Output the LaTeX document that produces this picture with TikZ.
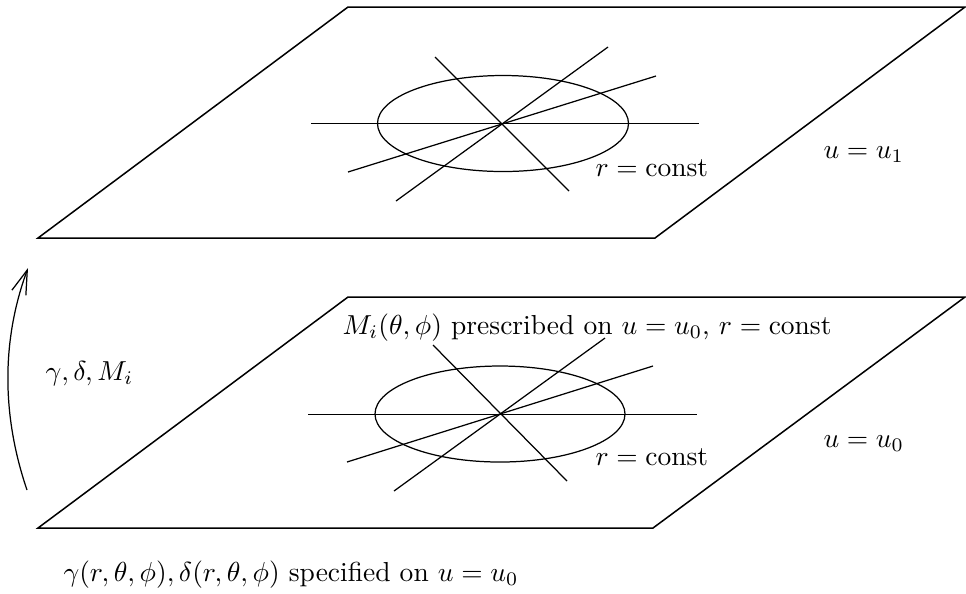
\documentclass[tikz,border=0pt]{standalone}
\usepackage{amsmath,amssymb}
\usepackage{tikz}
\usetikzlibrary{arrows.meta}

\begin{document}
\begin{tikzpicture}[
      x=0.01278cm,y=-0.01278cm,
      sheet/.style={line width=0.55pt,line join=miter},
      ray/.style={line width=0.45pt},
      shell/.style={line width=0.45pt},
      lbl/.style={inner sep=0pt,anchor=base west},
      flow/.style={-{Straight Barb[length=3.1mm,width=1.9mm]},line width=0.45pt}
    ]
    \path[use as bounding box] (0,0) rectangle (966,593);

    % upper sheet u = u_1
    \draw[sheet] (38,238) -- (655,238) -- (965,7) -- (348,7) -- cycle;
    \coordinate (upperO) at (503,123.5);
    \draw[shell] (upperO) ellipse [x radius=125.5,y radius=48];
    \draw[ray] (311,123.5) -- (699,123.5);
    \draw[ray] (435,57) -- (569,191);
    \draw[ray] (396,201) -- (608,47);
    \draw[ray] (348,172) -- (656,76);
    \node[lbl] (upperR) at (595,176) {$r=\mathrm{const}$};
    \node[lbl] (upperU) at (823,158) {$u=u_1$};

    % lower sheet u = u_0
    \draw[sheet] (38,528) -- (653,528) -- (965,297) -- (348,297) -- cycle;
    \coordinate (lowerO) at (500,414);
    \draw[shell] (lowerO) ellipse [x radius=125,y radius=48];
    \draw[ray] (308,414.3) -- (697,414.3);
    \draw[ray] (433,345) -- (567,481);
    \draw[ray] (394,491) -- (605,338);
    \draw[ray] (347,462) -- (653,366);
    \node[lbl] (lowerR) at (595,465) {$r=\mathrm{const}$};
    \node[lbl] (lowerU) at (823,447) {$u=u_0$};
    \node[lbl] (lowerM) at (342,334)
      {$M_i(\theta,\phi)$ prescribed on $u=u_0$, $r=\mathrm{const}$};

    % evolution from u_0 to u_1
    \coordinate (flowStart) at (27,490);
    \coordinate (flowEnd) at (28,268);
    \draw[flow] (flowStart) .. controls (1.5,415) and (1.5,340) .. (flowEnd);
    \node[lbl] (flowLbl) at (45,380) {$\gamma,\delta,M_i$};

    \node[lbl] (initLbl) at (63,581)
      {$\gamma(r,\theta,\phi),\delta(r,\theta,\phi)$ specified on $u=u_0$};
  \end{tikzpicture}
\end{document}
